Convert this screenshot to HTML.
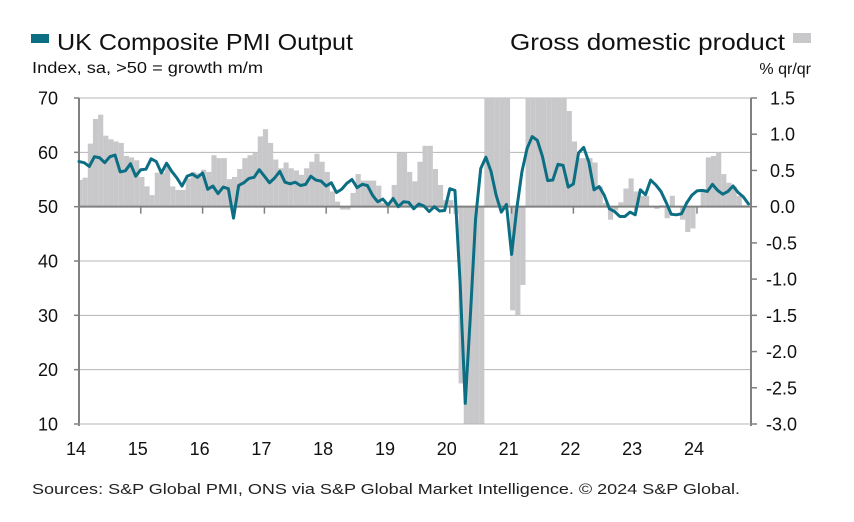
<!DOCTYPE html>
<html><head><meta charset="utf-8"><style>
body{margin:0;background:#fff;}
svg{display:block;font-family:"Liberation Sans",sans-serif;}
</style></head><body>
<svg id="chart" width="854" height="522" viewBox="0 0 854 522">
<g>
<rect x="31" y="34" width="18" height="9" fill="#0b6e83"/>
<text x="57" y="50" font-size="23" fill="#111" textLength="296" lengthAdjust="spacingAndGlyphs">UK Composite PMI Output</text>
</g>
<text x="32" y="73" font-size="16" fill="#111" textLength="231" lengthAdjust="spacingAndGlyphs">Index, sa, &gt;50 = growth m/m</text>
<g>
<text x="510" y="50" font-size="23" fill="#111" textLength="275" lengthAdjust="spacingAndGlyphs">Gross domestic product</text>
<rect x="793" y="33" width="18" height="10" fill="#c8c8ca"/>
</g>
<text x="811" y="74" font-size="16" fill="#111" text-anchor="end">% qr/qr</text>
<g id="grid"></g>
<g id="bars"></g>
<g id="axes"></g>
<g id="line"></g>
<text x="32" y="494" font-size="15" fill="#222" textLength="708" lengthAdjust="spacingAndGlyphs">Sources: S&amp;P Global PMI, ONS via S&amp;P Global Market Intelligence. © 2024 S&amp;P Global.</text>
</svg>
<script>
const years = ["14","15","16","17","18","19","20","21","22","23","24"];
const leftTicks = [70,60,50,40,30,20,10];
const rightTicks = ["1.5","1.0","0.5","0.0","-0.5","-1.0","-1.5","-2.0","-2.5","-3.0"];
const pmi = [58.3,58.1,57.4,59.2,59.0,58.1,59.2,59.5,56.4,56.6,57.9,55.6,
56.8,56.9,58.8,58.3,56.2,58.0,56.5,55.3,53.8,55.6,56.0,55.4,
56.2,53.2,53.8,52.4,53.6,53.3,47.9,53.9,54.4,55.2,55.4,56.8,
55.6,54.4,55.3,56.5,54.5,54.2,54.5,53.9,54.1,55.6,54.9,54.7,
53.8,54.4,52.6,53.2,54.3,55.0,53.5,54.1,53.9,52.1,50.9,51.4,
50.3,51.5,50.0,50.9,50.8,49.6,50.5,50.1,49.1,50.0,49.2,49.3,
53.3,53.0,36.0,13.8,30.0,47.7,57.0,59.1,56.5,52.1,49.0,50.4,
41.2,49.6,56.4,60.7,62.9,62.2,59.2,54.8,54.9,57.8,57.6,53.6,
54.2,59.9,60.9,58.2,53.1,53.7,52.1,49.6,49.1,48.2,48.2,49.0,
48.5,53.1,52.2,54.9,54.0,52.8,50.8,48.6,48.5,48.7,50.7,52.1,
52.9,53.0,52.8,54.1,53.0,52.3,52.8,53.8,52.6,51.8,50.5];
const gdp = [0.37,0.40,0.87,1.21,1.27,0.98,0.93,0.90,0.88,0.70,0.68,0.64,
0.41,0.28,0.16,0.47,0.47,0.58,0.28,0.23,0.23,0.39,0.48,0.46,
0.51,0.48,0.71,0.67,0.67,0.38,0.41,0.52,0.67,0.71,0.74,0.97,
1.07,0.88,0.65,0.53,0.61,0.53,0.50,0.44,0.53,0.62,0.73,0.62,
0.48,0.21,0.07,-0.04,-0.04,0.19,0.45,0.36,0.36,0.36,0.29,0.05,
0.05,0.30,0.74,0.75,0.48,0.35,0.62,0.84,0.84,0.52,0.30,0.09,
0.09,-0.10,-2.44,-19.0,-20.0,-19.0,-8.0,16.0,8.0,4.0,2.0,1.6,
-1.43,-1.50,-1.08,4.0,5.0,6.0,5.0,3.0,2.0,1.6,1.6,1.32,
0.90,0.67,0.67,0.67,0.61,0.28,0.05,-0.18,-0.05,0.06,0.25,0.39,
0.21,0.15,0.15,0.00,-0.03,0.02,-0.16,0.15,0.00,-0.18,-0.35,-0.30,
0.00,0.24,0.68,0.70,0.75,0.45,0.33,0.28,0.15,0.02];

const NS="http://www.w3.org/2000/svg";
const X0=79, X1=751, Y0=98, Y1=424, STEP=5.15;
const xM = i => X0 + i*STEP;
const yL = v => Y0 + (70 - v)/60*(Y1-Y0);
const yR = v => Y0 + (1.5 - v)/4.5*(Y1-Y0);
function mk(tag, attrs, parent){const e=document.createElementNS(NS,tag);for(const k in attrs)e.setAttribute(k,attrs[k]);parent.appendChild(e);return e;}
const grid=document.getElementById('grid'), bars=document.getElementById('bars'), axes=document.getElementById('axes'), lineG=document.getElementById('line');

leftTicks.forEach(t=>{
  const y=yL(t);
  if(t!==50){
    const g=mk('line',{x1:X0,x2:X1,y1:y,y2:y,stroke:'#b4b4b4','stroke-width':1},grid);
    
    
  }
  const tk=mk('line',{x1:X0-5,x2:X0,y1:y,y2:y,stroke:'#808080','stroke-width':1.5},axes);
  
  
  const tx=mk('text',{x:58,y:y+6.5,'font-size':18,'text-anchor':'end',fill:'#111'},axes);
  tx.textContent=t;
  
  
});
rightTicks.forEach(t=>{
  const y=yR(parseFloat(t));
  const tk=mk('line',{x1:X1,x2:X1+6,y1:y,y2:y,stroke:'#808080','stroke-width':1.5},axes);
  
  
  const tx=mk('text',{x:t[0]==='-'?766:770,y:y+6.5,'font-size':18,fill:'#111'},axes);
  tx.textContent=t;
  
  
});

const clipY = v => Math.max(Y0, Math.min(Y1, yR(v)));
const y0r = yR(0);
gdp.forEach((v,i)=>{
  let xa=xM(i)-1.5, xb=xM(i)+STEP-1.5;
  xa=Math.max(xa,X0+1); xb=Math.min(xb,X1-1);
  const yv=clipY(v);
  const r=mk('rect',{x:xa,width:Math.max(0,xb-xa),y:Math.min(yv,y0r),height:Math.abs(yv-y0r),fill:'#c8c8ca'},bars);
  
  
});

const l=mk('line',{x1:X0,x2:X0,y1:Y0,y2:Y1+2,stroke:'#808080','stroke-width':2},axes);


const r=mk('line',{x1:X1,x2:X1,y1:Y0,y2:Y1+2,stroke:'#808080','stroke-width':2},axes);


const bl=mk('line',{x1:X0,x2:X1,y1:yL(50),y2:yL(50),stroke:'#808080','stroke-width':2},axes);


const bt=mk('line',{x1:X0,x2:X1,y1:Y1,y2:Y1,stroke:'#b4b4b4','stroke-width':1},axes);



years.forEach((yr,k)=>{
  const x=xM(k*12);
  if(k>0){
    const tk=mk('line',{x1:x,x2:x,y1:yL(50),y2:yL(50)+7,stroke:'#808080','stroke-width':1.5},axes);
    
    
  }
  const tx=mk('text',{x:x-3,y:455,'font-size':18,'text-anchor':'middle',fill:'#111'},axes);
  tx.textContent=yr;
  
  
});

const pts=pmi.map((v,i)=>xM(i).toFixed(2)+','+yL(v).toFixed(2)).join(' ');
const pl=mk('polyline',{points:pts,fill:'none',stroke:'#0b6e83','stroke-width':3,'stroke-linejoin':'round','stroke-linecap':'round'},lineG);


</script>
</body></html>
